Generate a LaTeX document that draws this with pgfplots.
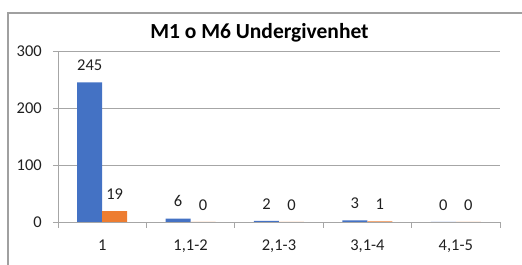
\documentclass[border=0pt]{standalone}
\usepackage{pgfplots}
\pgfplotsset{compat=1.18}
\usepackage{fontspec}
\setmainfont{Carlito}
\definecolor{xblue}{HTML}{4472C4}
\definecolor{xorange}{HTML}{ED7D31}
\definecolor{xgrid}{HTML}{A6A6A6}
\definecolor{xframe}{HTML}{A0A0A0}
\definecolor{xtext}{HTML}{202020}
\begin{document}
\begin{tikzpicture}[x=1pt,y=1pt]
\useasboundingbox (0,0) rectangle (522,265);
\draw[xframe,line width=1.3pt] (8,-2) -- (8,252) -- (524,252);
\begin{axis}[
  at={(58pt,43pt)}, anchor=south west,
  scale only axis, width=442pt, height=171pt,
  xmin=-0.5, xmax=4.5, ymin=0, ymax=300,
  axis x line=bottom, axis y line=left,
  axis line style={-, xgrid, line width=0.9pt},
  ybar=0pt, bar width=25pt,
  xtick={0,1,2,3,4},
  xticklabels={1,{1,1-2},{2,1-3},{3,1-4},{4,1-5}},
  minor xtick={-0.5,0.5,1.5,2.5,3.5,4.5},
  major x tick style={draw=none},
  minor x tick style={xgrid, line width=0.9pt},
  minor tick length=6pt,
  ytick={0,100,200,300},
  major y tick style={xgrid, line width=0.9pt},
  major tick length=5pt,
  tick align=outside,
  ymajorgrids, grid style={xgrid, line width=0.9pt},
  tick label style={font=\fontsize{16.5}{18}\selectfont, text=xtext},
  yticklabel style={inner sep=0pt, xshift=-11pt},
  xticklabel style={inner sep=0pt, yshift=-13pt},
  nodes near coords,
  every node near coord/.append style={font=\fontsize{16.5}{18}\selectfont, text=xtext, yshift=8pt},
  /pgf/number format/assume math mode=true,
  clip=false,
]
\addplot[fill=xblue, draw=none] coordinates {(0,245) (1,6) (2,2) (3,3) (4,0)};
\addplot[fill=xorange, draw=none] coordinates {(0,19) (1,0) (2,0) (3,1) (4,0)};
\end{axis}
\node[font=\fontsize{21.5}{24}\selectfont\bfseries, text=black] at (259.5,232) {M1 o M6 Undergivenhet};
\end{tikzpicture}
\end{document}
